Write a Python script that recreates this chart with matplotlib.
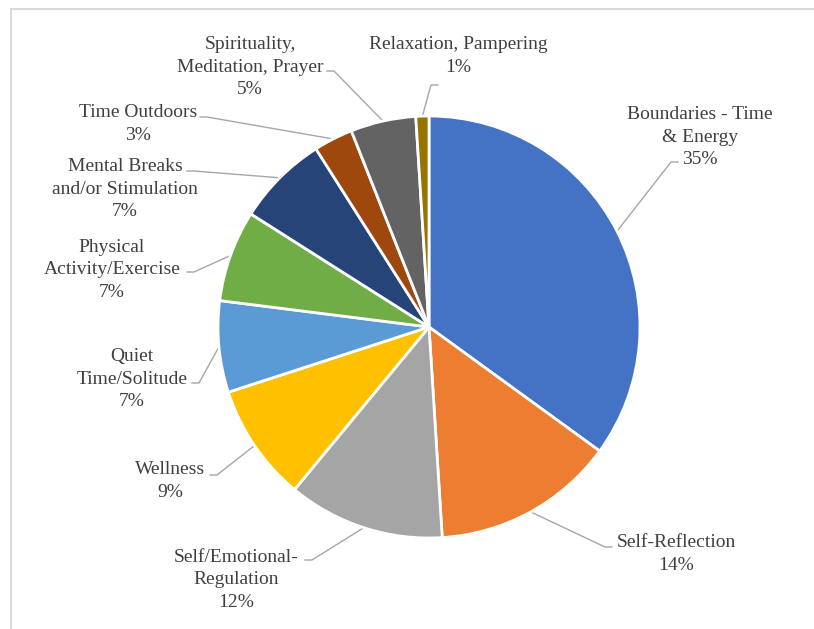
import numpy as np
import matplotlib.pyplot as plt
from matplotlib.patches import Rectangle

W, H = 814, 629

categories = ['Boundaries - Time\n& Energy', 'Self-Reflection', 'Self/Emotional-\nRegulation',
              'Wellness', 'Quiet\nTime/Solitude', 'Physical\nActivity/Exercise',
              'Mental Breaks\nand/or Stimulation', 'Time Outdoors',
              'Spirituality,\nMeditation, Prayer', 'Relaxation, Pampering']
shares = [35, 14, 12, 9, 7, 7, 7, 3, 5, 1]
colors = ['#4472C4', '#ED7D31', '#A5A5A5', '#FFC000', '#5B9BD5',
          '#70AD47', '#264478', '#9E480E', '#636363', '#997300']

# label centres and where each leader line leaves the label (pixels, y down)
label_pos = [(700, 137), (676, 554), (236, 580), (170, 481), (132, 379),
             (112, 270), (125, 189), (138, 124), (250, 67), (458, 56)]
leader_start = [(678, 162), (612, 547), (305, 560), (210, 475), (192, 383),
                (187, 272), (187, 171), (200, 117), (327, 71), (438, 85)]

cx, cy, r = 429, 327, 211

plt.rcParams['font.family'] = ['Liberation Serif', 'DejaVu Serif']

fig = plt.figure(figsize=(W / 100, H / 100), dpi=100)
ax = fig.add_axes([0, 0, 1, 1])

wedges, _ = ax.pie(shares, colors=colors, startangle=90, counterclock=False,
                   center=(cx, H - cy), radius=r,
                   wedgeprops=dict(edgecolor='white', linewidth=2))

ax.set_xlim(0, W)
ax.set_ylim(0, H)
ax.set_aspect('equal')
ax.axis('off')

for w, name, v, (lx, ly), (sx, sy) in zip(wedges, categories, shares, label_pos, leader_start):
    mid = np.deg2rad((w.theta1 + w.theta2) / 2)
    px = cx + r * np.cos(mid)
    py = (H - cy) + r * np.sin(mid)
    step = 7 if px > sx else -7
    ax.plot([sx, sx + step, px], [H - sy, H - sy, py], color='#A6A6A6', lw=1, zorder=0)
    ax.text(lx, H - ly, f'{name}\n{v}%', ha='center', va='center', fontsize=14,
            color='#404040', linespacing=1.42)

# light frame round the chart area
ax.add_patch(Rectangle((10.5, -20), W + 20, H - 8.5 + 20, fill=False,
                       edgecolor='#D9D9D9', lw=1.5, clip_on=False))

fig.savefig('out.png', dpi=100)
